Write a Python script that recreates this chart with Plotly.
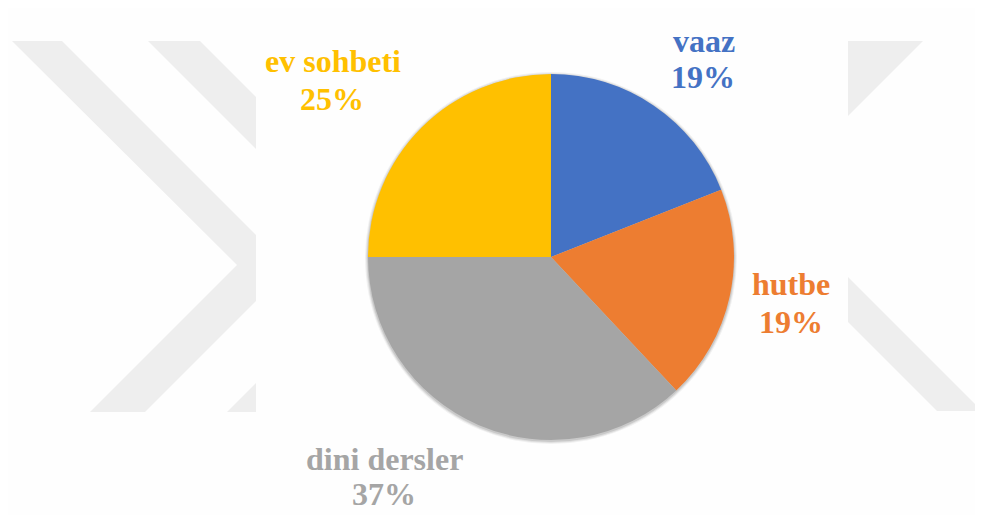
import plotly.graph_objects as go

# ---- data ----
categories = ["vaaz", "hutbe", "dini dersler", "ev sohbeti"]
values = [19, 19, 37, 25]
colors = ["#4472C4", "#ED7D31", "#A5A5A5", "#FFC000"]

# page has an 8px body margin; figure is placed at (8, 8) and fills to the window edge
OFF = 8
W, H = 983 - OFF, 515 - OFF


def px(x):
    return (x - OFF) / W


def py(y):
    return 1 - (y - OFF) / H


def poly(points):
    d = "M " + " L ".join(f"{px(x):.5f},{py(y):.5f}" for x, y in points) + " Z"
    return dict(type="path", xref="paper", yref="paper", path=d,
                fillcolor="#EEEEEE", line=dict(width=0), layer="below")


# background watermark (decorative)
shapes = [
    poly([(12, 41), (62, 41), (256, 235), (256, 301), (145, 412), (90, 412), (237, 265)]),
    poly([(148, 41), (200, 41), (256, 97), (256, 149)]),
    poly([(227, 412), (256, 383), (256, 412)]),
    poly([(848, 41), (923, 41), (848, 116)]),
    poly([(848, 277), (982, 411), (937, 411), (848, 322)]),
]

# soft shadow behind pie
cx, cy, r = 551, 257, 183
for i, a in enumerate([0.05, 0.07, 0.10]):
    rr = r + 3 - i
    shapes.append(dict(type="circle", xref="paper", yref="paper",
                       x0=px(cx - rr), x1=px(cx + rr), y0=py(cy + rr + 1), y1=py(cy - rr + 1),
                       fillcolor=f"rgba(0,0,0,{a})", line=dict(width=0), layer="below"))

fig = go.Figure(go.Pie(
    labels=categories,
    values=values,
    sort=False,
    direction="clockwise",
    rotation=0,
    marker=dict(colors=colors, line=dict(width=0)),
    textinfo="none",
    hoverinfo="label+percent",
    domain=dict(x=[px(cx - r), px(cx + r)], y=[py(cy + r), py(cy - r)]),
))

# label positions (name center, percent center) in page pixels
label_pos = [
    (704, 41, 703, 77),
    (791, 284, 791, 322),
    (384, 459, 384, 494),
    (333, 61, 332, 99),
]
total = sum(values)
annotations = []
for cat, val, col, (nx, ny, qx, qy) in zip(categories, values, colors, label_pos):
    font = dict(family="Liberation Serif, Times New Roman, serif", size=32, color=col)
    annotations.append(dict(x=px(nx), y=py(ny), xref="paper", yref="paper",
                            text=f"<b>{cat}</b>", showarrow=False,
                            xanchor="center", yanchor="middle", font=font))
    annotations.append(dict(x=px(qx), y=py(qy), xref="paper", yref="paper",
                            text=f"<b>{round(val / total * 100)}%</b>", showarrow=False,
                            xanchor="center", yanchor="middle", font=font))

fig.update_layout(
    width=W, height=H,
    margin=dict(l=0, r=0, t=0, b=0),
    paper_bgcolor="#FEFEFE",
    plot_bgcolor="#FEFEFE",
    showlegend=False,
    shapes=shapes,
    annotations=annotations,
)

fig.write_html("out.html")
